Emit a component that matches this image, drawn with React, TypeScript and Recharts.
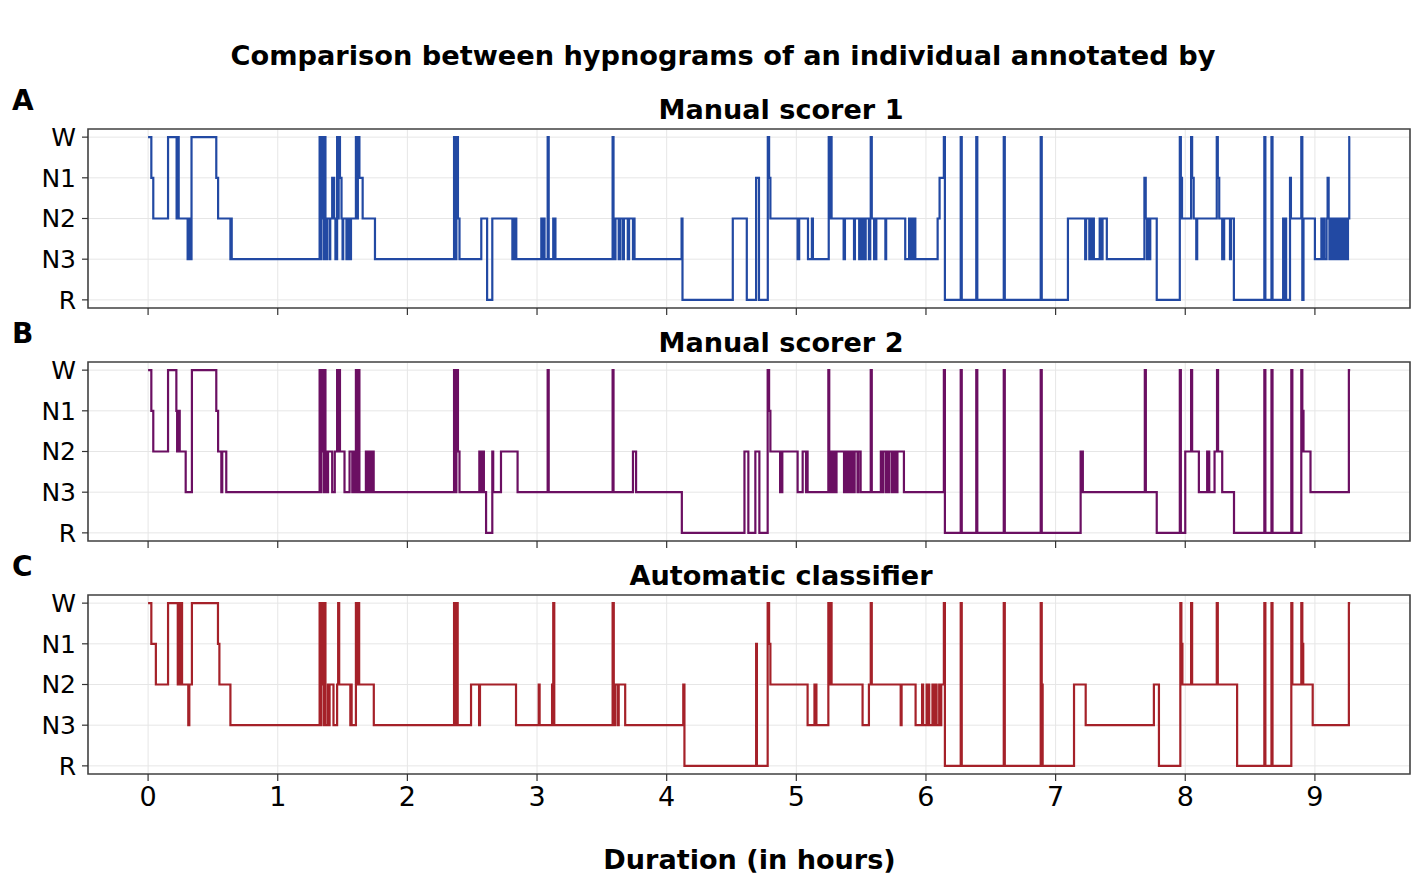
import React from "react";
import { LineChart, Line, XAxis, YAxis, CartesianGrid, ReferenceArea } from "recharts";

const stageNames = ["R", "N3", "N2", "N1", "W"];
const stageTicks = [0, 1, 2, 3, 4];
const hourTicks = [0, 1, 2, 3, 4, 5, 6, 7, 8, 9];

const mainTitle = "Comparison between hypnograms of an individual annotated by";
const xLabel = "Duration (in hours)";

type Epoch = [number, string];

// [start hour, stage] — each stage lasts until the next entry
const scorer1: Epoch[] = [
  [0, "W"], [0.025, "N1"], [0.04, "N2"], [0.154, "W"], [0.22, "N2"], [0.228, "W"], [0.236, "N2"],
  [0.305, "N3"], [0.312, "N2"], [0.318, "N3"], [0.335, "W"], [0.526, "N1"], [0.54, "N2"],
  [0.635, "N3"], [0.64, "N2"], [0.645, "N3"],
  [1.323, "W"], [1.33, "N3"], [1.335, "W"], [1.342, "N2"], [1.347, "W"], [1.355, "N3"], [1.36, "W"], [1.368, "N2"],
  [1.375, "N3"], [1.38, "N2"], [1.4, "N3"], [1.405, "N2"], [1.42, "N1"], [1.435, "N2"], [1.445, "N3"],
  [1.458, "W"], [1.465, "N2"], [1.47, "W"], [1.48, "N1"], [1.492, "N2"], [1.5, "N3"], [1.505, "N2"], [1.53, "N3"],
  [1.535, "N2"], [1.548, "N3"], [1.553, "N2"], [1.56, "N3"], [1.565, "N2"],
  [1.603, "W"], [1.612, "N2"], [1.618, "W"], [1.63, "N1"], [1.655, "N2"], [1.75, "N3"],
  [2.36, "W"], [2.37, "N3"], [2.378, "W"], [2.39, "N2"], [2.402, "N3"],
  [2.57, "N2"], [2.615, "R"], [2.655, "N2"], [2.81, "N3"], [2.815, "N2"], [2.825, "N3"], [2.83, "N2"], [2.84, "N3"],
  [3.033, "N2"], [3.04, "N3"], [3.05, "N2"], [3.058, "N3"], [3.082, "W"], [3.09, "N3"], [3.125, "N2"], [3.142, "N3"],
  [3.583, "W"], [3.59, "N3"], [3.605, "N2"], [3.63, "N3"], [3.64, "N2"], [3.66, "N3"], [3.67, "N2"], [3.7, "N3"],
  [3.71, "N2"], [3.74, "N3"], [3.745, "N2"], [3.752, "N3"],
  [4.115, "N2"], [4.122, "R"], [4.51, "N2"], [4.618, "R"], [4.69, "N1"], [4.712, "R"], [4.78, "W"], [4.79, "N1"], [4.8, "N2"],
  [5.01, "N3"], [5.022, "N2"], [5.09, "N3"], [5.12, "N2"], [5.128, "N3"],
  [5.25, "W"], [5.258, "N2"], [5.262, "W"], [5.272, "N2"],
  [5.365, "N3"], [5.375, "N2"], [5.445, "N3"], [5.452, "N2"], [5.485, "N3"], [5.49, "N2"], [5.5, "N3"], [5.505, "N2"],
  [5.515, "N3"], [5.52, "N2"], [5.53, "N3"], [5.535, "N2"], [5.56, "N3"], [5.57, "N2"], [5.574, "W"], [5.582, "N2"],
  [5.6, "N3"], [5.605, "N2"], [5.612, "N3"], [5.617, "N2"], [5.687, "N3"], [5.693, "N2"],
  [5.84, "N3"], [5.87, "N2"], [5.878, "N3"], [5.895, "N2"], [5.905, "N3"], [5.912, "N2"], [5.918, "N3"],
  [6.09, "N2"], [6.105, "N1"], [6.138, "W"], [6.146, "R"], [6.268, "W"], [6.276, "R"], [6.388, "W"], [6.396, "R"],
  [6.6, "W"], [6.608, "R"], [6.885, "W"], [6.893, "R"], [7.095, "N2"],
  [7.228, "N3"], [7.235, "N2"], [7.26, "N3"], [7.265, "N2"], [7.28, "N3"], [7.285, "N2"], [7.295, "N3"], [7.34, "N2"],
  [7.355, "N3"], [7.362, "N2"], [7.395, "N3"],
  [7.685, "N1"], [7.695, "N2"], [7.705, "N3"], [7.712, "N2"], [7.722, "N3"], [7.73, "N2"], [7.78, "R"],
  [7.958, "W"], [7.966, "N1"], [7.975, "N2"], [8.045, "W"], [8.053, "N1"], [8.065, "N2"], [8.085, "N3"], [8.092, "N2"],
  [8.243, "W"], [8.251, "N1"], [8.262, "N2"], [8.285, "N3"], [8.3, "N2"], [8.345, "N3"], [8.352, "N2"], [8.375, "R"],
  [8.61, "W"], [8.618, "R"], [8.665, "W"], [8.673, "R"], [8.755, "N2"], [8.763, "R"], [8.772, "N2"], [8.778, "R"],
  [8.808, "N1"], [8.815, "N2"], [8.895, "W"], [8.903, "R"], [8.912, "N2"],
  [9.0, "N3"], [9.05, "N2"], [9.058, "N3"], [9.065, "N2"], [9.072, "N3"], [9.09, "N2"], [9.098, "N1"], [9.106, "N2"],
  [9.112, "N3"], [9.12, "N2"], [9.128, "N3"], [9.135, "N2"], [9.142, "N3"], [9.15, "N2"], [9.158, "N3"], [9.165, "N2"],
  [9.172, "N3"], [9.18, "N2"], [9.188, "N3"], [9.2, "N2"], [9.208, "N3"], [9.22, "N2"], [9.228, "N3"], [9.238, "N2"],
  [9.245, "N3"], [9.255, "N2"], [9.265, "W"], [9.272, "W"],
];

const scorer2: Epoch[] = [
  [0, "W"], [0.025, "N1"], [0.04, "N2"], [0.154, "W"], [0.218, "N1"], [0.224, "N2"], [0.23, "N1"], [0.244, "N2"],
  [0.29, "N3"], [0.338, "W"], [0.526, "N1"], [0.54, "N2"], [0.565, "N3"], [0.572, "N2"], [0.603, "N3"],
  [1.323, "W"], [1.33, "N3"], [1.335, "W"], [1.342, "N2"], [1.347, "W"], [1.355, "N3"], [1.36, "W"], [1.368, "N3"],
  [1.375, "N2"], [1.383, "N3"], [1.388, "N2"], [1.42, "N3"], [1.44, "N2"],
  [1.458, "W"], [1.466, "N2"], [1.472, "W"], [1.48, "N2"], [1.515, "N3"], [1.554, "N2"], [1.575, "N3"], [1.58, "N2"],
  [1.592, "N3"], [1.603, "W"], [1.612, "N3"], [1.618, "W"], [1.63, "N3"],
  [1.68, "N2"], [1.688, "N3"], [1.692, "N2"], [1.7, "N3"], [1.705, "N2"], [1.712, "N3"], [1.716, "N2"], [1.724, "N3"],
  [1.728, "N2"], [1.74, "N3"],
  [2.36, "W"], [2.37, "N3"], [2.378, "W"], [2.39, "N2"], [2.402, "N3"],
  [2.555, "N2"], [2.562, "N3"], [2.567, "N2"], [2.575, "N3"], [2.58, "N2"], [2.59, "N3"], [2.607, "R"], [2.655, "N2"],
  [2.662, "N3"], [2.722, "N2"], [2.85, "N3"],
  [3.082, "W"], [3.09, "N3"], [3.583, "W"], [3.59, "N3"], [3.74, "N2"], [3.764, "N3"],
  [4.117, "R"], [4.6, "N2"], [4.63, "R"], [4.684, "N2"], [4.715, "R"], [4.779, "W"], [4.79, "N1"], [4.8, "N2"],
  [4.875, "N3"], [4.892, "N2"],
  [5.01, "N3"], [5.049, "N2"], [5.075, "N3"], [5.079, "N2"], [5.087, "N3"],
  [5.247, "W"], [5.254, "N2"], [5.26, "N3"], [5.265, "N2"], [5.27, "N3"], [5.275, "N2"], [5.282, "N3"], [5.287, "N2"],
  [5.294, "N3"], [5.299, "N2"], [5.305, "N3"], [5.31, "N2"],
  [5.368, "N3"], [5.374, "N2"], [5.385, "N3"], [5.39, "N2"], [5.4, "N3"], [5.405, "N2"], [5.415, "N3"], [5.42, "N2"],
  [5.43, "N3"], [5.435, "N2"], [5.444, "N3"], [5.45, "N2"], [5.472, "N3"], [5.478, "N2"], [5.496, "N3"],
  [5.574, "W"], [5.582, "N3"],
  [5.652, "N2"], [5.665, "N3"], [5.67, "N2"], [5.69, "N3"], [5.695, "N2"], [5.71, "N3"], [5.715, "N2"], [5.735, "N3"],
  [5.74, "N2"], [5.755, "N3"], [5.76, "N2"], [5.775, "N3"], [5.78, "N2"], [5.83, "N3"],
  [6.138, "W"], [6.146, "R"], [6.268, "W"], [6.276, "R"], [6.388, "W"], [6.396, "R"], [6.6, "W"], [6.608, "R"],
  [6.885, "W"], [6.893, "R"],
  [7.193, "N2"], [7.2, "N3"], [7.203, "N2"], [7.21, "N3"], [7.688, "W"], [7.696, "N3"], [7.78, "R"],
  [7.958, "W"], [7.966, "R"], [8.0, "N2"], [8.045, "W"], [8.053, "N2"], [8.105, "N3"], [8.169, "N2"], [8.185, "N3"],
  [8.226, "N2"], [8.245, "W"], [8.253, "N2"], [8.285, "N3"], [8.376, "R"],
  [8.61, "W"], [8.618, "R"], [8.665, "W"], [8.673, "R"], [8.818, "W"], [8.826, "R"], [8.895, "W"], [8.903, "N1"],
  [8.912, "N2"], [8.966, "N3"], [9.262, "W"], [9.272, "W"],
];

const classifier: Epoch[] = [
  [0, "W"], [0.025, "N1"], [0.06, "N2"], [0.154, "W"], [0.229, "N2"], [0.236, "W"], [0.244, "N2"], [0.252, "W"],
  [0.262, "N2"], [0.31, "N3"], [0.318, "N2"], [0.338, "W"], [0.539, "N1"], [0.55, "N2"], [0.635, "N3"],
  [1.323, "W"], [1.33, "N3"], [1.335, "W"], [1.342, "N2"], [1.347, "W"], [1.355, "N3"], [1.36, "W"], [1.368, "N3"],
  [1.387, "N2"], [1.395, "N3"], [1.4, "N2"], [1.43, "N3"], [1.458, "N2"], [1.466, "W"], [1.474, "N2"], [1.56, "N3"],
  [1.565, "N2"], [1.57, "N3"], [1.603, "W"], [1.612, "N2"], [1.618, "W"], [1.628, "N2"], [1.741, "N3"],
  [2.36, "W"], [2.37, "N3"], [2.378, "W"], [2.388, "N3"], [2.491, "N2"], [2.553, "N3"], [2.56, "N2"], [2.838, "N3"],
  [3.013, "N2"], [3.02, "N3"], [3.116, "N2"], [3.125, "W"], [3.133, "N3"],
  [3.583, "W"], [3.592, "N3"], [3.605, "N2"], [3.625, "N3"], [3.63, "N2"], [3.68, "N3"],
  [4.128, "N2"], [4.137, "R"], [4.69, "N1"], [4.696, "R"], [4.779, "W"], [4.79, "N1"], [4.8, "N2"],
  [5.087, "N3"], [5.14, "N2"], [5.155, "N3"], [5.247, "W"], [5.257, "N2"], [5.262, "W"], [5.272, "N2"],
  [5.511, "N3"], [5.56, "N2"], [5.574, "W"], [5.582, "N2"], [5.805, "N3"], [5.812, "N2"],
  [5.92, "N3"], [5.97, "N2"], [5.978, "N3"], [6.005, "N2"], [6.013, "N3"], [6.018, "N2"], [6.025, "N3"], [6.05, "N2"],
  [6.058, "N3"], [6.075, "N2"], [6.082, "N3"], [6.102, "N2"], [6.11, "N3"], [6.118, "N2"], [6.138, "W"], [6.146, "R"],
  [6.268, "W"], [6.276, "R"], [6.6, "W"], [6.608, "R"], [6.885, "W"], [6.893, "N2"], [6.9, "R"],
  [7.142, "N2"], [7.232, "N3"], [7.758, "N2"], [7.797, "R"], [7.962, "W"], [7.97, "N1"], [7.978, "N2"],
  [8.045, "W"], [8.053, "N2"], [8.243, "W"], [8.251, "N2"], [8.4, "R"],
  [8.61, "W"], [8.618, "R"], [8.665, "W"], [8.673, "R"], [8.818, "W"], [8.826, "N2"], [8.895, "W"], [8.903, "N1"],
  [8.91, "N2"], [8.983, "N3"], [9.262, "W"], [9.272, "W"],
];

const FONT = "'DejaVu Sans', Verdana, sans-serif";
const X_DOMAIN: [number, number] = [-0.4635, 9.7335];
const Y_DOMAIN: [number, number] = [-0.2, 4.2];
const PAD = 20;

type PanelProps = {
  epochs: Epoch[];
  color: string;
  top: number;
  showLabels: boolean;
};

function Panel({ epochs, color, top, showLabels }: PanelProps) {
  const rows = epochs.map(([h, s]) => ({ h, v: stageNames.indexOf(s) }));
  const xh = showLabels ? 50 : 10;
  const H = PAD + 179 + xh;
  return (
    <div style={{ position: "absolute", left: 0, top: top - PAD, width: 1421, height: H }}>
      <LineChart width={1421} height={H} data={rows} margin={{ top: PAD, right: 11, bottom: 0, left: 0 }}>
        <CartesianGrid stroke="#e6e6e6" strokeWidth={1} />
        <XAxis
          dataKey="h"
          type="number"
          domain={X_DOMAIN}
          allowDataOverflow
          ticks={hourTicks}
          interval={0}
          height={xh}
          axisLine={false}
          tickSize={7}
          tickMargin={6}
          tickLine={{ stroke: "#333", strokeWidth: 1.2 }}
          tick={{ fontSize: 27, fill: "#000", fontFamily: FONT }}
          tickFormatter={(v: number) => (showLabels ? String(v) : "")}
        />
        <YAxis
          type="number"
          domain={Y_DOMAIN}
          allowDataOverflow
          ticks={stageTicks}
          interval={0}
          width={88}
          axisLine={false}
          tickSize={6}
          tickMargin={6}
          tickLine={{ stroke: "#333", strokeWidth: 1.2 }}
          tick={{ fontSize: 25, fill: "#000", fontFamily: FONT }}
          tickFormatter={(v: number) => stageNames[v]}
        />
        <ReferenceArea
          x1={X_DOMAIN[0]}
          x2={X_DOMAIN[1]}
          y1={Y_DOMAIN[0]}
          y2={Y_DOMAIN[1]}
          ifOverflow="visible"
          fill="none"
          fillOpacity={0}
          stroke="#444"
          strokeWidth={1.6}
        />
        <Line
          type="stepAfter"
          dataKey="v"
          stroke={color}
          strokeWidth={2.2}
          dot={false}
          activeDot={false}
          isAnimationActive={false}
        />
      </LineChart>
    </div>
  );
}

const panels = [
  { letter: "A", title: "Manual scorer 1", epochs: scorer1, color: "#2249a3" },
  { letter: "B", title: "Manual scorer 2", epochs: scorer2, color: "#6b0f62" },
  { letter: "C", title: "Automatic classifier", epochs: classifier, color: "#a52129" },
];

export default function App() {
  const tops = [129, 362, 595];
  return (
    <div style={{ position: "absolute", left: 0, top: 0, width: 1421, height: 879, background: "#fff", fontFamily: FONT }}>
      {panels.map((p, i) => (
        <Panel key={p.letter} epochs={p.epochs} color={p.color} top={tops[i]} showLabels={i === 2} />
      ))}
      <svg width={1421} height={879} style={{ position: "absolute", left: 0, top: 0, pointerEvents: "none" }}>
        <text x={723} y={65} textAnchor="middle" fontSize={27.2} fontWeight="bold" fontFamily={FONT} fill="#000">
          {mainTitle}
        </text>
        {panels.map((p, i) => (
          <g key={p.letter}>
            <text x={781} y={119 + i * 233} textAnchor="middle" fontSize={27.1} fontWeight="bold" fontFamily={FONT} fill="#000">
              {p.title}
            </text>
            <text x={12} y={110 + i * 233} fontSize={28} fontWeight="bold" fontFamily={FONT} fill="#000">
              {p.letter}
            </text>
          </g>
        ))}
        <text x={749.5} y={869} textAnchor="middle" fontSize={27.1} fontWeight="bold" fontFamily={FONT} fill="#000">
          {xLabel}
        </text>
      </svg>
    </div>
  );
}
